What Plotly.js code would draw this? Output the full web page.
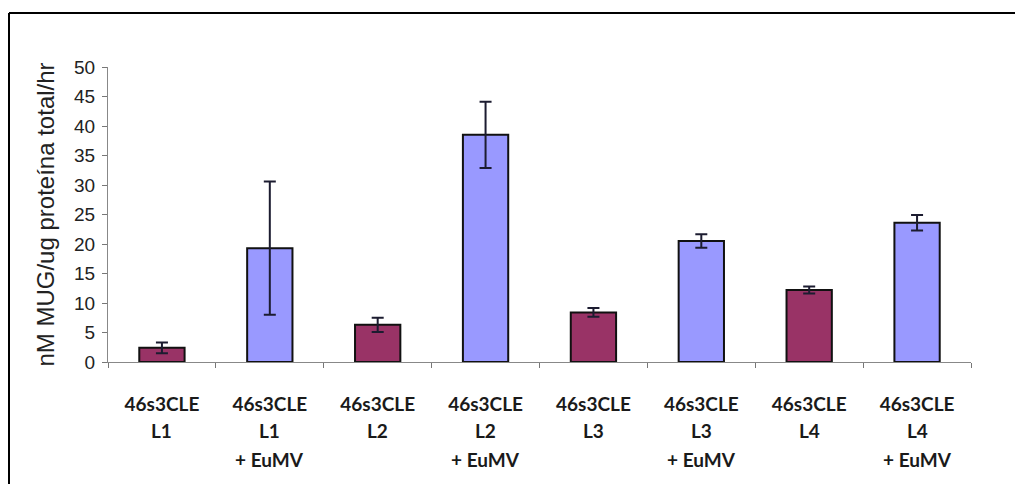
<!DOCTYPE html>
<html>
<head>
<meta charset="utf-8">
<script src="https://cdn.plot.ly/plotly-3.0.1.min.js"></script>
<style>html,body{margin:0;padding:0;background:#fff;}#chart{width:1015px;height:484px;}</style>
</head>
<body>
<div id="chart"></div>
<script>
// Category labels (three text lines per category)
const categories = ["L1", "L1 + EuMV", "L2", "L2 + EuMV", "L3", "L3 + EuMV", "L4", "L4 + EuMV"];
const labelLine1 = ["46s3CLE", "46s3CLE", "46s3CLE", "46s3CLE", "46s3CLE", "46s3CLE", "46s3CLE", "46s3CLE"];
const labelLine2 = ["L1", "L1", "L2", "L2", "L3", "L3", "L4", "L4"];
const labelLine3 = ["", "+ EuMV", "", "+ EuMV", "", "+ EuMV", "", "+ EuMV"];

// Lines alone
const plainCats = ["L1", "L2", "L3", "L4"];
const plainValues = [2.4, 6.3, 8.4, 12.2];
const plainErrors = [0.9, 1.2, 0.75, 0.6];

// Lines + EuMV
const eumvCats = ["L1 + EuMV", "L2 + EuMV", "L3 + EuMV", "L4 + EuMV"];
const eumvValues = [19.3, 38.5, 20.5, 23.6];
const eumvErrors = [11.3, 5.6, 1.15, 1.3];

const yTicks = [0, 5, 10, 15, 20, 25, 30, 35, 40, 45, 50];
const yTitle = "nM MUG/ug proteína total/hr";

const errStyle = {type: "data", visible: true, thickness: 2, width: 6, color: "#1c1c30"};
const lineStyle = {color: "#111111", width: 2};

const traces = [
  {
    type: "bar", x: plainCats, y: plainValues,
    error_y: Object.assign({array: plainErrors}, errStyle),
    marker: {color: "#993366", line: lineStyle},
    hoverinfo: "x+y"
  },
  {
    type: "bar", x: eumvCats, y: eumvValues,
    error_y: Object.assign({array: eumvErrors}, errStyle),
    marker: {color: "#9999FF", line: lineStyle},
    hoverinfo: "x+y"
  }
];

// paper-coordinate helpers (plot area: x 108..971, y 67..362)
const L = 108, R = 44, T = 67, B = 122, W = 1015, H = 484;
const pw = W - L - R, ph = H - T - B;
const px = v => (v - L) / pw;
const py = v => (H - B - v) / ph;

const catFont = {family: "Lato, 'Open Sans', sans-serif", size: 19, color: "#1a1a1a", weight: "bold"};

const annotations = [];
categories.forEach((c, i) => {
  annotations.push({x: c, xref: "x", y: py(430), yref: "paper", text: labelLine2[i],
    showarrow: false, yanchor: "middle", xanchor: "center", font: catFont});
  if (labelLine3[i]) {
    annotations.push({x: c, xref: "x", y: py(459), yref: "paper", text: labelLine3[i],
      showarrow: false, yanchor: "middle", xanchor: "center", font: catFont});
  }
});

const layout = {
  width: W, height: H,
  margin: {l: L, r: R, t: T, b: B},
  paper_bgcolor: "#ffffff", plot_bgcolor: "#ffffff",
  showlegend: false,
  barmode: "overlay",
  bargap: 0.58,
  xaxis: {
    type: "category",
    categoryorder: "array", categoryarray: categories,
    tickvals: categories, ticktext: labelLine1,
    tickson: "boundaries",
    ticks: "outside", ticklen: 5, tickwidth: 1, tickcolor: "#777",
    showline: true, linecolor: "#888", linewidth: 1,
    showgrid: false, zeroline: false,
    ticklabelstandoff: 25,
    tickfont: catFont
  },
  yaxis: {
    range: [0, 50],
    tickvals: yTicks,
    ticks: "outside", ticklen: 5, tickwidth: 1, tickcolor: "#777",
    showline: true, linecolor: "#888", linewidth: 1,
    showgrid: false, zeroline: false,
    ticklabelstandoff: 3,
    tickfont: {family: "'Liberation Sans', Arial, sans-serif", size: 19, color: "#222"},
    title: {text: yTitle, standoff: 12,
      font: {family: "'Liberation Sans', Arial, sans-serif", size: 24, color: "#222"}}
  },
  annotations: annotations,
  shapes: [
    {type: "line", xref: "paper", yref: "paper", x0: px(9), x1: px(W + 5), y0: py(13), y1: py(13),
     line: {color: "#000", width: 2}},
    {type: "line", xref: "paper", yref: "paper", x0: px(9), x1: px(9), y0: py(13), y1: py(H + 5),
     line: {color: "#000", width: 2}}
  ]
};

Plotly.newPlot("chart", traces, layout, {staticPlot: true, displayModeBar: false});
</script>
</body>
</html>
